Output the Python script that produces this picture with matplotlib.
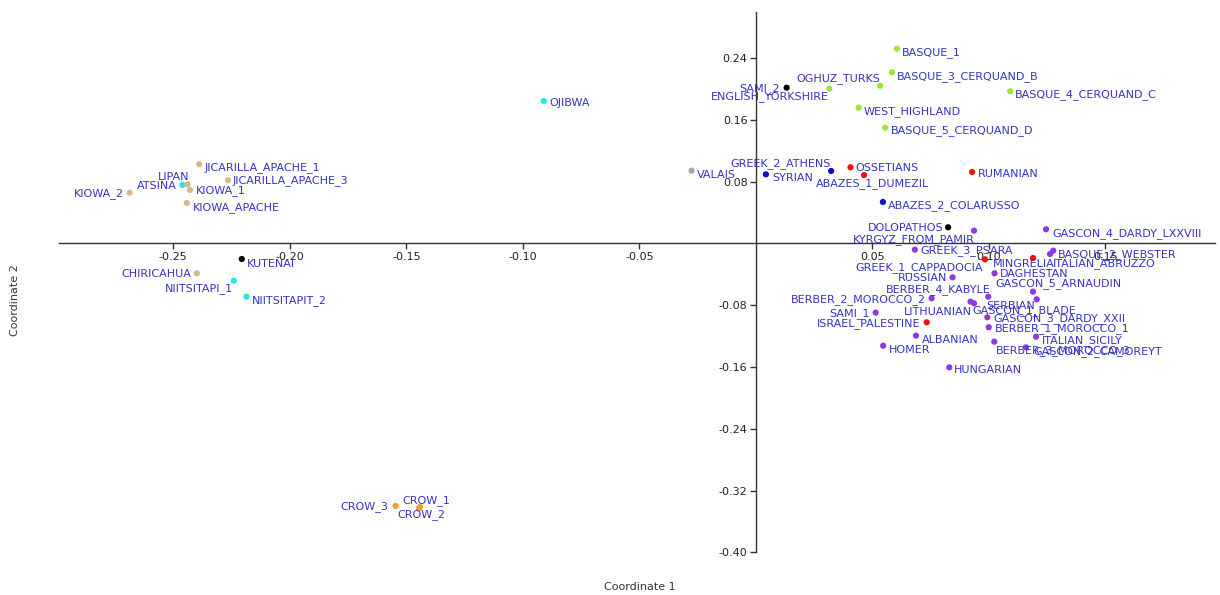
"""Principal coordinates scatter: Coordinate 1 vs Coordinate 2 with labelled samples."""
import matplotlib
matplotlib.use("Agg")
import matplotlib.pyplot as plt

NAMES = ["KIOWA_2", "ATSINA", "LIPAN", "KIOWA_1", "JICARILLA_APACHE_1", "JICARILLA_APACHE_3",
         "KIOWA_APACHE", "KUTENAI", "CHIRICAHUA", "NIITSITAPI_1", "NIITSITAPIT_2", "OJIBWA",
         "VALAIS", "SAMI_2", "ENGLISH_YORKSHIRE", "OGHUZ_TURKS", "BASQUE_3_CERQUAND_B",
         "BASQUE_1", "BASQUE_4_CERQUAND_C", "WEST_HIGHLAND", "BASQUE_5_CERQUAND_D", "SYRIAN",
         "GREEK_2_ATHENS", "OSSETIANS", "ABAZES_1_DUMEZIL", "RUMANIAN", "ABAZES_2_COLARUSSO",
         "DOLOPATHOS", "KYRGYZ_FROM_PAMIR", "GREEK_3_PSARA", "GASCON_4_DARDY_LXXVIII",
         "BASQUE_2_WEBSTER", "ITALIAN_ABRUZZO", "GREEK_1_CAPPADOCIA", "MINGRELIA", "DAGHESTAN",
         "RUSSIAN", "GASCON_5_ARNAUDIN", "SERBIAN", "BERBER_4_KABYLE", "BERBER_2_MOROCCO_2",
         "LITHUANIAN", "GASCON_1_BLADE", "GASCON_3_DARDY_XXII", "BERBER_1_MOROCCO_1", "SAMI_1",
         "ISRAEL_PALESTINE", "ALBANIAN", "HOMER", "HUNGARIAN", "ITALIAN_SICILY",
         "BERBER_3_MOROCCO_3", "GASCON_2_CAMOREYT", "CROW_3", "CROW_1", "CROW_2"]

COORD1 = [-0.2687, -0.2461, -0.2439, -0.2428, -0.2389, -0.2265,
          -0.2442, -0.2206, -0.2399, -0.2240, -0.2186, -0.0910,
          -0.0276, 0.0132, 0.0315, 0.0533, 0.0584,
          0.0605, 0.1091, 0.0441, 0.0555, 0.0043,
          0.0323, 0.0406, 0.0464, 0.0928, 0.0545,
          0.0825, 0.0936, 0.0682, 0.1245,
          0.1276, 0.1262, 0.0983, 0.1189, 0.1024,
          0.0844, 0.1189, 0.1205, 0.0997, 0.0754,
          0.0921, 0.0936, 0.0993, 0.0999, 0.0514,
          0.0733, 0.0687, 0.0546, 0.0830, 0.1202,
          0.1023, 0.1159, -0.1546, -0.1442, -0.1446]

COORD2 = [0.0658, 0.0758, 0.0767, 0.0693, 0.1026, 0.0819,
          0.0525, -0.0201, -0.0386, -0.0482, -0.0689, 0.1846,
          0.0943, 0.2018, 0.2005, 0.2044, 0.2218,
          0.2523, 0.1972, 0.1759, 0.1500, 0.0896,
          0.0939, 0.0987, 0.0887, 0.0926, 0.0538,
          0.0210, 0.0166, -0.0080, 0.0184,
          -0.0093, -0.0136, -0.0205, -0.0188, -0.0386,
          -0.0438, -0.0624, -0.0723, -0.0689, -0.0710,
          -0.0754, -0.0775, -0.0956, -0.1085, -0.0896,
          -0.1021, -0.1194, -0.1324, -0.1604, -0.1207,
          -0.1272, -0.1345, -0.3400, -0.3413, -0.3433]

GROUPS = ["tan", "cyan", "tan", "tan", "tan", "tan",
          "tan", "black", "tan", "cyan", "cyan", "cyan",
          "gray", "black", "green", "green", "green",
          "green", "green", "green", "green", "blue",
          "blue", "red", "red", "red", "blue",
          "black", "purple", "purple", "purple",
          "purple", "purple", "red", "red", "purple",
          "purple", "purple", "purple", "purple", "purple",
          "purple", "purple", "purple", "purple", "purple",
          "red", "purple", "purple", "purple", "purple",
          "purple", "purple", "orange", "orange", "orange"]

GROUP_COLORS = {"tan": "#d8b88a", "cyan": "#22e8ea", "black": "#000000", "gray": "#a8a8a8",
                "green": "#98e83a", "blue": "#0a0ad0", "red": "#ee1010", "purple": "#9038e0",
                "orange": "#f2a22a"}

# label placement: (dx px, dy px, horizontal alignment) relative to the dot
LABEL_POS = {
    "KIOWA_2": (-6, 0, "right"), "ATSINA": (-6, 0, "right"), "LIPAN": (2, 8, "right"),
    "KIOWA_1": (6, 0, "left"), "JICARILLA_APACHE_1": (5, -2, "left"),
    "JICARILLA_APACHE_3": (5, 1, "left"), "KIOWA_APACHE": (6, -4, "left"),
    "KUTENAI": (5, -4, "left"), "CHIRICAHUA": (-6, 0, "right"), "NIITSITAPI_1": (-1, -7, "right"),
    "NIITSITAPIT_2": (5, -3, "left"), "OJIBWA": (6, -1, "left"), "VALAIS": (5, -3, "left"),
    "SAMI_2": (-7, 0, "right"), "ENGLISH_YORKSHIRE": (0, -7, "right"), "OGHUZ_TURKS": (0, 8, "right"),
    "BASQUE_3_CERQUAND_B": (5, -3, "left"), "BASQUE_1": (5, -3, "left"),
    "BASQUE_4_CERQUAND_C": (5, -2, "left"), "WEST_HIGHLAND": (5, -3, "left"),
    "BASQUE_5_CERQUAND_D": (6, -2, "left"), "SYRIAN": (6, -3, "left"),
    "GREEK_2_ATHENS": (0, 8, "right"), "OSSETIANS": (5, 0, "left"),
    "ABAZES_1_DUMEZIL": (9, -8, "center"), "RUMANIAN": (6, -1, "left"),
    "ABAZES_2_COLARUSSO": (5, -3, "left"), "DOLOPATHOS": (-5, 0, "right"),
    "KYRGYZ_FROM_PAMIR": (1, -8, "right"), "GREEK_3_PSARA": (6, 0, "left"),
    "GASCON_4_DARDY_LXXVIII": (6, -3, "left"), "BASQUE_2_WEBSTER": (5, -3, "left"),
    "ITALIAN_ABRUZZO": (3, -9, "left"), "GREEK_1_CAPPADOCIA": (-2, -7, "right"),
    "MINGRELIA": (-9, -5, "center"), "DAGHESTAN": (5, 0, "left"), "RUSSIAN": (-5, 0, "right"),
    "GASCON_5_ARNAUDIN": (-38, 9, "left"), "SERBIAN": (-2, -6, "right"),
    "BERBER_4_KABYLE": (2, 8, "right"), "BERBER_2_MOROCCO_2": (-6, 0, "right"),
    "LITHUANIAN": (1, -9, "right"), "GASCON_1_BLADE": (-2, -6, "left"),
    "GASCON_3_DARDY_XXII": (6, 0, "left"), "BERBER_1_MOROCCO_1": (6, 0, "left"),
    "SAMI_1": (-6, 0, "right"), "ISRAEL_PALESTINE": (-6, 0, "right"), "ALBANIAN": (6, -3, "left"),
    "HOMER": (6, -3, "left"), "HUNGARIAN": (5, -2, "left"), "ITALIAN_SICILY": (6, -3, "left"),
    "BERBER_3_MOROCCO_3": (2, -8, "left"), "GASCON_2_CAMOREYT": (7, -3, "left"),
    "CROW_3": (-7, 0, "right"), "CROW_1": (6, 7, "center"), "CROW_2": (2, -5, "center"),
}

X_TICKS = [-0.25, -0.20, -0.15, -0.10, -0.05, 0.05, 0.10, 0.15]
Y_TICKS = [0.24, 0.16, 0.08, -0.08, -0.16, -0.24, -0.32, -0.40]

plt.rcParams["font.family"] = ["DejaVu Sans"]
fig = plt.figure(figsize=(12.2, 5.95), dpi=100)
ax = fig.add_axes([0.0484, 0.0718, 0.9475, 0.9082])

colors = [GROUP_COLORS[g] for g in GROUPS]
ax.scatter(COORD1, COORD2, s=20, c=colors, linewidths=0, zorder=3)

for name, x, y in zip(NAMES, COORD1, COORD2):
    dx, dy, ha = LABEL_POS[name]
    ax.annotate(name, (x, y), xytext=(dx, dy - 1), textcoords="offset pixels",
                ha=ha, va="center", fontsize=8, color="#3434c0", zorder=4)

ax.set_xlim(-0.299, 0.197)
ax.set_ylim(-0.40, 0.30)
for side in ["top", "right"]:
    ax.spines[side].set_visible(False)
for side in ["left", "bottom"]:
    ax.spines[side].set_position(("data", 0))
    ax.spines[side].set_color("#333333")
    ax.spines[side].set_linewidth(1.0)

ax.set_xticks(X_TICKS)
ax.set_xticklabels([f"{v:.2f}" for v in X_TICKS])
ax.set_yticks(Y_TICKS)
ax.set_yticklabels([f"{v:.2f}" for v in Y_TICKS])
ax.tick_params(axis="both", direction="out", length=4, width=1, color="#333333",
               labelsize=8, labelcolor="#222222", pad=2)
ax.patch.set_visible(False)

fig.text(0.5246, 0.0134, "Coordinate 1", ha="center", va="center", fontsize=8, color="#333333")
fig.text(0.0123, 0.496, "Coordinate 2", ha="center", va="center", rotation=90,
         fontsize=8, color="#333333")

fig.savefig("out.png", dpi=100)
plt.close()
